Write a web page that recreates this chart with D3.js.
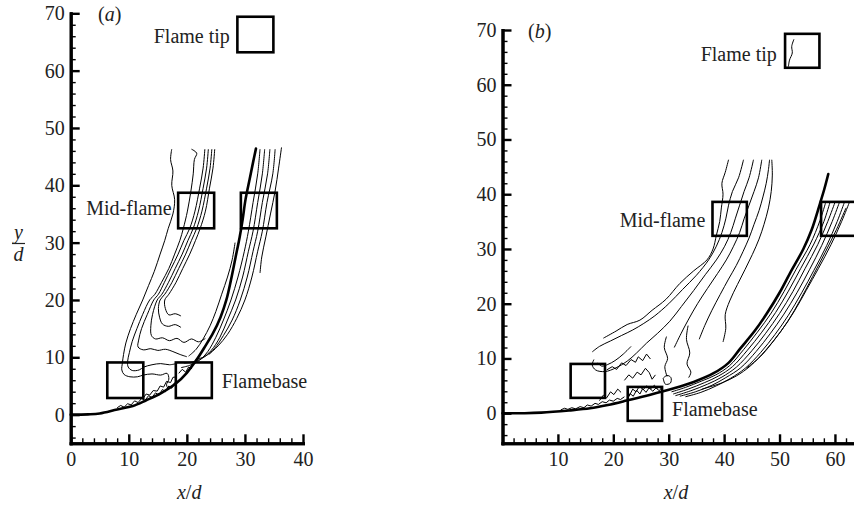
<!DOCTYPE html>
<html>
<head>
<meta charset="utf-8">
<script src="https://cdn.jsdelivr.net/npm/d3@7"></script>
<style>
  html, body { margin: 0; padding: 0; background: #fff; }
  svg { display: block; }
  svg text { font-family: "Liberation Serif", "Times New Roman", "DejaVu Serif", serif !important; }
</style>
</head>
<body>
<svg id="fig" width="854" height="510"></svg>
<script>
// ---------- shared tick values ----------
const yMajor = [0, 10, 20, 30, 40, 50, 60, 70];
const xMajorA = [0, 10, 20, 30, 40];
const xMajorB = [10, 20, 30, 40, 50, 60];
const boxSize = 6.2;                 // interrogation windows are 6.2d square

// ---------- panel (a) ----------
const trajectoryA = [[0,0],[3,0.05],[5,0.2],[8,0.9],[10.7,1.5],[13,2.5],[15.5,3.7],[18.2,5.5],[20,7.3],
  [21.7,9.6],[23.2,12],[24.5,14.2],[25.8,17],[26.8,20],[27.6,23.5],[28.4,27.5],[29.1,31],[29.6,34],
  [30.1,37.5],[30.8,41],[31.4,44],[31.9,46.4]];

const leftBandA = [
  [[17.4,46.3],[17.2,44.5],[17.6,42.5],[17.4,40],[17.9,37.5],[17.6,35],[16.8,32.5],[16.2,30.4],[15.4,28],
   [14.4,25],[13.4,22.5],[12.4,20],[11.3,17.5],[10.3,15],[9.5,12.5],[9.1,10.5],[8.9,9],[8.8,7.8],[9.2,7.0],
   [10.2,6.6],[11.5,6.6],[12.5,6.9],[14,7.1],[15.5,6.9],[16.6,7.2],[16.9,6.2],[16.5,5.2],[16.9,4.3]],
  [[20.8,46.3],[21.7,45.6],[21.3,44.5],[21.1,42],[20.7,39],[20.1,35.5],[19.4,32.5],[18.8,30.4],[17.9,28],
   [16.9,25.5],[15.6,23],[14.5,21],[13.6,20],[12.4,17.5],[11.4,15],[10.6,12.8],[10.1,10.8],[9.8,9.3],
   [9.9,8.3],[10.6,7.7],[11.8,7.8],[12.6,8.3],[14,8.7],[15.5,8.9],[17,8.7],[18.2,8.9]],
  [[23.1,46.3],[22.8,43],[22.2,39.5],[21.4,35.5],[20.5,32.5],[19.5,30.4],[18.5,28],[17.3,25.5],[16.1,23],
   [15.1,21],[14.3,20],[13.2,17.5],[12.2,15],[11.7,13],[11.6,11.8],[12.5,11.3],[13.8,11.5],[15,11.2],
   [16.3,11.4],[17.6,11.0],[18.8,10.5],[20,10.1]],
  [[23.7,46.3],[23.4,43],[22.8,39.5],[22.0,35.5],[21.1,32.5],[20.2,30.4],[19.2,28],[18.0,25.5],[16.8,23],
   [15.7,21],[14.9,20],[14.1,17.5],[13.8,15.5],[13.9,13.8],[14.6,13.2],[15.8,13.4],[17,12.9],[18.3,13.3],
   [19.5,12.6],[20.8,13.2],[22,12.7],[23.2,13.3]],
  [[24.3,46.3],[24.0,43],[23.4,39.5],[22.6,35.5],[21.7,32.5],[20.8,30.4],[19.8,28],[18.6,25.5],[17.4,23],
   [16.2,21],[15.4,20],[15.1,18.5],[15.3,17],[15.8,15.8],[16.8,15.4],[18,15.7],[19,15.2]],
  [[24.8,46.3],[24.5,43],[23.9,39.5],[23.2,35.5],[22.3,32.5],[21.5,30.4],[20.5,28],[19.3,25.5],[18.1,23],
   [16.9,21],[16.2,20],[16.3,18.5],[16.9,17.4],[18,17.6],[19,17.2]]
];

const rightBandA = [
  [[32.6,46.3],[32.2,42],[31.4,37],[30.6,32],[29.9,28.5],[28.8,24],[27.6,20],[26.3,16.5],[25,13.5],
   [23.6,11],[22.2,9.5],[20.5,8.6],[19,8.2]],
  [[33.4,46.3],[33,42],[32.2,37],[31.4,32],[30.6,28.5],[29.6,24],[28.4,20],[27,16.5],[25.7,13.5],
   [24.2,11.2],[22.6,9.8],[21,9.2],[19.5,9]],
  [[34.3,46.3],[33.9,42],[33.0,37],[32.2,32],[31.4,28.5],[30.4,24],[29.2,20],[27.8,16.5],[26.3,13.8],
   [24.8,11.6],[23.2,10.2],[21.5,9.6]],
  [[35.2,46.3],[34.8,42],[33.8,37],[33.0,32],[32.2,28.5],[31.2,24],[30.0,20],[28.6,16.8],[27,14],
   [25.4,12],[23.8,10.5]],
  [[36.3,46.6],[35.8,43],[35.2,39],[34.4,35],[33.6,31],[32.9,27.5],[32.6,24.7]],
  [[28.3,30],[27.8,27],[27,24],[26,21],[25,18],[24,15.5],[22.8,13.2],[21.6,11.4],[20.3,10.2]]
];

const baseA = [
  [[8,1.2],[8.6,1.6],[9.2,1.3],[9.8,1.9],[10.4,1.7],[11,2.4],[11.6,2.1],[12.2,2.8],[12.8,2.5],[13.4,3.3],
   [14,3.0],[14.6,3.8],[15.2,3.4],[15.8,4.4],[16.3,4.0],[16.9,5.0],[17.4,4.6],[17.9,5.6]],
  [[12.5,2.9],[13,3.6],[13.6,3.4],[14.2,4.2],[14.9,4.1],[15.4,5],[16,4.8],[16.5,5.8],[17.2,5.6],
   [17.6,6.5],[18.3,6.6]],
  [[18.6,7.2],[19.2,7.9],[19.8,7.4],[20.3,8.3],[20.9,8.0]]
];

const boxesA = [[28.7, 63.2], [18.5, 32.5], [29.3, 32.5], [6.3, 2.9], [18.1, 2.9]];
const labelTextA = ["Flame tip", "Mid-flame", "Flamebase"];
const labelAtA = [[27.4, 64.8, "end"], [17.4, 34.8, "end"], [26.0, 4.6, "start"]];

// ---------- panel (b) ----------
const trajectoryB = [[0,0],[4,0],[7,0.1],[12,0.5],[15.8,0.9],[19,1.5],[22.4,2.3],[26,3.2],[30.8,4.5],
  [34.5,5.7],[38.1,7.3],[40.8,9.2],[42.9,11.8],[45.5,15],[47.7,18.2],[50,22],[51.9,25.6],[54.3,30],
  [55.8,33.5],[57.3,38.3],[58.1,41],[58.8,43.7]];

const leftBandB = [
  [[18.2,13.7],[20.5,15],[22.5,16.2],[24.8,17],[27,18.8],[29.5,20.8],[32,23.7],[34.5,26],[36.9,28],
   [38,30],[38.6,32.5],[39.2,35],[39.5,37.5],[39.8,40],[39.6,42],[40.2,44],[40.8,46.3]],
  [[16.2,11.2],[17.5,12.2],[19.5,13.2],[21.5,14.2],[23.5,15.2],[25.5,16.4],[27.5,17.8],[30,20],
   [32.5,22.6],[35,25.2],[37.2,28],[38.6,30.5],[39.6,33],[40.3,35.5],[40.8,38],[41.5,40.5],[42.6,43],
   [43.5,46.3]],
  [[16.5,9.8],[16.2,8.8],[16.8,7.9],[18.5,7.6],[20.5,8.3],[22.5,9.5],[24.2,11],[26,12.8],[28,14.6],
   [30.2,16.8],[32.3,19.5],[34.5,22.4],[36.6,25.3],[38.6,28],[40.1,30.5],[41.2,33],[42,35.5],[42.8,38],
   [43.6,40.5],[44.5,43],[45.3,46.3]],
  [[31,12],[32.2,14.5],[33.5,17],[35.2,20],[37,22.8],[38.8,25.5],[40.4,28],[41.7,30.5],[42.8,33],
   [43.6,35.5],[44.5,38],[45.4,40.5],[46.2,43],[46.8,46.3]],
  [[35.5,13.5],[36.5,16],[37.8,18.8],[39.3,21.7],[40.8,24.5],[42.2,27],[43.4,29.5],[44.5,32],[45.4,34.5],
   [46.3,37],[47,39.5],[47.6,42],[48,44.5],[48.2,46.3]],
  [[39.8,13],[40.3,15.5],[40.2,18],[41,20.5],[42.4,23.5],[43.8,26.3],[45.1,29],[46.3,31.8],[47.2,34.5],
   [48,37.5],[48.5,40.5],[48.7,43.5],[48.6,46.3]],
  [[17.2,9.2],[17.9,8.6],[19,8.9],[20.3,9.6],[21.8,10.8],[23.2,12.2]],
  [[29.6,14],[29.2,12],[29.8,10],[29.3,8.5],[29.7,6.7]],
  [[33.5,16],[33.2,13.5],[33.8,11],[33.3,9],[34,7.5],[33.6,6.5]],
  [[29.0,6.4],[29.4,5.3],[30.3,5.5],[30.4,6.5],[29.7,6.9],[29.0,6.4]]
];

const rightBandB = [
  [[30.5,3.9],[33,4.7],[36,5.9],[38.5,7.0],[41,8.7],[43.5,11.6],[46,14.8],[48.5,18.3],[50.8,22.2],
   [53,26.3],[55.5,30.8],[57.3,35.2],[58.3,38.4]],
  [[30.8,3.5],[33.5,4.4],[36.5,5.6],[39,6.8],[41.5,8.5],[44.2,11.5],[46.8,14.8],[49.3,18.4],[51.6,22.3],
   [53.8,26.4],[56.2,30.9],[58,35],[59.1,38.5]],
  [[31.2,3.2],[34,4.1],[37,5.3],[39.6,6.6],[42.2,8.4],[45,11.4],[47.5,14.6],[50,18.2],[52.4,22.2],
   [54.6,26.4],[56.9,30.8],[58.7,35],[60,38.5]],
  [[32,3.1],[34.8,3.9],[37.8,5.1],[40.3,6.5],[43,8.3],[45.8,11.3],[48.3,14.5],[50.8,18.1],[53.2,22.1],
   [55.4,26.2],[57.6,30.6],[59.5,35],[60.8,38.5]],
  [[33,3.0],[35.8,3.8],[38.6,5.0],[41.2,6.4],[43.8,8.2],[46.6,11.1],[49.2,14.4],[51.6,17.9],[54,22],
   [56.2,26.1],[58.5,30.6],[60.4,35],[61.7,38.5]],
  [[36,4.4],[39.5,5.5],[42.2,6.8],[44.7,8.6],[47.5,11.5],[50.2,14.9],[52.6,18.5],[54.8,22.4],[57,26.4],
   [59.3,30.8],[61.2,35],[62.6,38.5]],
  [[44,8.2],[46.5,10.3],[49,13.3],[51.5,16.8],[53.8,20.8],[56,25],[58.2,29.3],[60.3,33.6],[62,37.5]]
];

const baseB = [
  [[10.5,0.6],[11.2,0.9],[11.8,0.7],[12.5,1.0],[13.2,0.8],[14,1.2],[14.7,1.0],[15.3,1.5],[16,1.3],
   [16.7,1.8],[17.3,1.6],[18,2.1],[18.7,1.9],[19.3,2.4],[20,2.2],[20.7,2.7],[21.3,2.5],[22,3.0]],
  [[22.5,2.6],[23,3.6],[23.6,3.1],[24.2,4.2],[24.8,3.5],[25.3,4.5],[25.9,3.8],[26.5,4.7],[27.1,4.0],
   [27.7,4.6],[28.3,4.1],[28.8,4.8]],
  [[22.8,3.0],[23.5,4.4],[24.1,3.9],[24.7,4.9],[25.4,4.3],[26,5.0],[26.7,4.4],[27.4,5.1],[28,4.5]],
  [[17.5,2.3],[18.2,3.3],[18.8,2.8],[19.5,3.9],[20.1,3.4],[20.8,4.4],[21.4,3.8]],
  [[18.8,7.9],[19.8,8.5],[20.6,8.0],[21.5,9.2],[22.3,8.7],[23.2,9.8],[24,9.3],[24.5,10.3],[25.3,9.6],
   [26,10.8],[26.7,9.9]],
  [[22,6],[22.8,7],[23.5,6.4],[24.3,7.5],[25,7],[25.8,8.2],[26.5,7.4],[27,6.2],[27.6,7]]
];
const tipLineB = [[52.6,68.3],[52.2,67],[52.3,65.8],[51.8,64.5],[51.6,63.3]];

const boxesB = [[51.0, 63.1], [37.9, 32.4], [57.5, 32.4], [12.3, 2.8], [22.6, -1.4]];
const labelTextB = ["Flame tip", "Mid-flame", "Flamebase"];
const labelAtB = [[49.5, 64.3, "end"], [36.6, 34.1, "end"], [30.6, -0.5, "start"]];

// ---------- drawing ----------
const svg = d3.select("#fig");
svg.append("rect").attr("width", 854).attr("height", 510).attr("fill", "#fff");

function drawPanel(cfg) {
  const x = d3.scaleLinear().domain(cfg.xDomain).range(cfg.xRange);
  const y = d3.scaleLinear().domain(cfg.yDomain).range(cfg.yRange);
  const g = svg.append("g");

  const smooth = d3.line().x(d => x(d[0])).y(d => y(d[1])).curve(d3.curveCatmullRom.alpha(0.5));
  const jagged = d3.line().x(d => x(d[0])).y(d => y(d[1]));

  // contour lines
  const thin = g.append("g").attr("fill", "none").attr("stroke", "#000")
    .attr("stroke-width", 1).attr("stroke-linejoin", "round");
  thin.selectAll("path.band").data(cfg.bands).join("path").attr("class", "band").attr("d", smooth);
  thin.selectAll("path.base").data(cfg.base).join("path").attr("class", "base").attr("d", jagged);

  // jet trajectory
  g.append("path").attr("d", smooth(cfg.trajectory)).attr("fill", "none")
    .attr("stroke", "#000").attr("stroke-width", 2.6).attr("stroke-linecap", "round");

  // interrogation windows
  g.selectAll("rect.win").data(cfg.boxes).join("rect").attr("class", "win")
    .attr("x", d => x(d[0])).attr("y", d => y(d[1] + boxSize))
    .attr("width", d => x(d[0] + boxSize) - x(d[0]))
    .attr("height", d => y(d[1]) - y(d[1] + boxSize))
    .attr("fill", "none").attr("stroke", "#000").attr("stroke-width", 2.6);

  // window labels
  g.selectAll("text.lab").data(cfg.labelText).join("text").attr("class", "lab")
    .attr("x", (d, i) => x(cfg.labelAt[i][0])).attr("y", (d, i) => y(cfg.labelAt[i][1]))
    .attr("text-anchor", (d, i) => cfg.labelAt[i][2])
    .attr("font-size", 20).attr("fill", "#222").text(d => d);

  // axes: minor ticks every 2d, labelled majors every 10d
  const yMinor = d3.range(Math.ceil(cfg.yDomain[0] / 2) * 2, cfg.yDomain[1], 2).filter(v => v % 10 !== 0);
  const xMinor = d3.range(2, cfg.xDomain[1] + 1, 2).filter(v => v % 10 !== 0);
  const x0 = cfg.xRange[0], yb = cfg.yRange[0];

  const axX = g.append("g").attr("transform", `translate(0,${yb})`);
  axX.append("g").call(d3.axisBottom(x).tickValues(xMinor).tickSize(-5).tickSizeOuter(0).tickFormat(""));
  axX.append("g").attr("class", "major")
    .call(d3.axisBottom(x).tickValues(cfg.xMajor).tickSize(-9).tickSizeOuter(0).tickPadding(9));

  const axY = g.append("g").attr("transform", `translate(${x0},0)`);
  axY.append("g").call(d3.axisLeft(y).tickValues(yMinor).tickSize(-5).tickSizeOuter(0).tickFormat(""));
  axY.append("g").attr("class", "major")
    .call(d3.axisLeft(y).tickValues(yMajor).tickSize(-9).tickSizeOuter(0).tickPadding(6));

  g.selectAll(".domain").attr("stroke", "#000").attr("stroke-width", 3).attr("stroke-linecap", "square");
  g.selectAll(".tick line").attr("stroke", "#000").attr("stroke-width", 1.4);
  g.selectAll(".major .tick line").attr("stroke-width", 2.4);
  g.selectAll(".tick text").attr("font-size", 20).attr("fill", "#222");

  // panel tag
  const tag = g.append("text").attr("x", x(cfg.tagAt[0])).attr("y", y(cfg.tagAt[1]))
    .attr("font-size", 20).attr("fill", "#222");
  tag.append("tspan").text("(");
  tag.append("tspan").attr("font-style", "italic").text(cfg.tag);
  tag.append("tspan").text(")");

  // x/d title
  const xt = g.append("text").attr("x", x(cfg.xTitleAt)).attr("y", 499)
    .attr("text-anchor", "middle").attr("font-size", 20).attr("font-style", "italic").attr("fill", "#222");
  xt.append("tspan").text("x");
  xt.append("tspan").attr("font-style", "normal").text("/");
  xt.append("tspan").text("d");

  return { x, y, g };
}

const pa = drawPanel({
  xDomain: [0, 40], xRange: [70.7, 303], yDomain: [-5, 70], yRange: [443.3, 13.3],
  xMajor: xMajorA, trajectory: trajectoryA, bands: leftBandA.concat(rightBandA), base: baseA,
  boxes: boxesA, labelText: labelTextA, labelAt: labelAtA, tag: "a", tagAt: [4.7, 68.7], xTitleAt: 20.4
});

const pb = drawPanel({
  xDomain: [0, 64], xRange: [502.5, 857.1], yDomain: [-5.5, 70], yRange: [443.3, 30],
  xMajor: xMajorB, trajectory: trajectoryB, bands: leftBandB.concat(rightBandB), base: baseB,
  boxes: boxesB, labelText: labelTextB, labelAt: labelAtB, tag: "b", tagAt: [4.6, 68.5], xTitleAt: 31.3
});
// thin contour inside the flame-tip window of panel (b)
pb.g.append("path").attr("d", d3.line().x(d => pb.x(d[0])).y(d => pb.y(d[1])).curve(d3.curveCatmullRom)(tipLineB))
  .attr("fill", "none").attr("stroke", "#000").attr("stroke-width", 1);

// y/d title for panel (a)
const yt = svg.append("g").attr("font-size", 20).attr("font-style", "italic").attr("fill", "#222");
yt.append("text").attr("x", 18.5).attr("y", 239).attr("text-anchor", "middle").text("y");
yt.append("line").attr("x1", 12).attr("x2", 25).attr("y1", 243.5).attr("y2", 243.5)
  .attr("stroke", "#222").attr("stroke-width", 1.2);
yt.append("text").attr("x", 18.5).attr("y", 261).attr("text-anchor", "middle").text("d");
</script>
</body>
</html>
